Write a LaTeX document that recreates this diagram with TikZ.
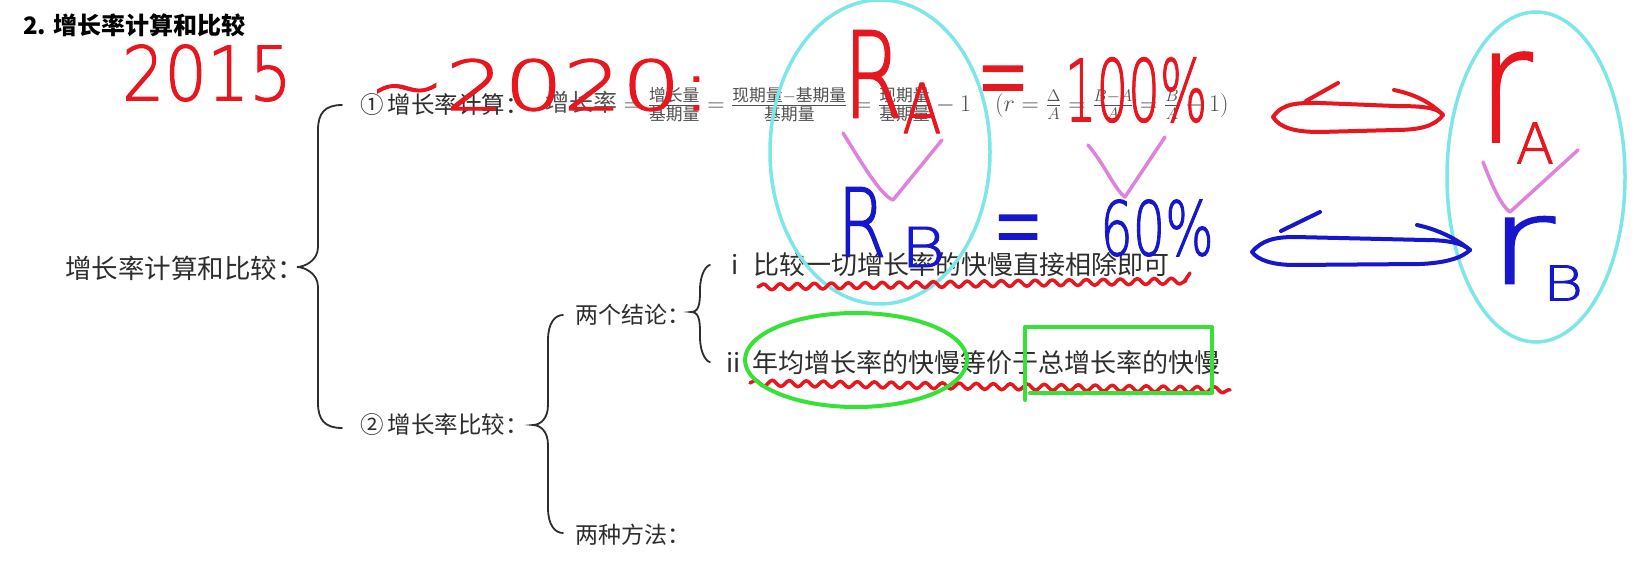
\RequirePackage{fix-cm}
\documentclass[tikz,border=0pt]{standalone}
\usepackage{amsmath}
\usepackage{fontspec}
\setmainfont{Noto Sans CJK SC}
\newfontfamily\hand[FakeBold=1.6]{DejaVuSans-ExtraLight.ttf}
\usetikzlibrary{arrows.meta,decorations.pathmorphing}
\definecolor{hred}{RGB}{232,22,30}
\definecolor{hblue}{RGB}{22,22,205}
\definecolor{hcyan}{RGB}{125,230,232}
\definecolor{hpink}{RGB}{222,130,222}
\definecolor{hgreen}{RGB}{55,225,55}
\definecolor{txt}{RGB}{45,45,45}
\definecolor{fgray}{RGB}{80,80,80}
\newcommand\hsz[1]{\hand\fontsize{#1}{#1}\selectfont}
\newcommand\csz[1]{\fontsize{#1}{#1}\selectfont}
\newcommand\hbrace[6]{%
  \draw[bracestyle] (#1,#4) .. controls ({#2+7},#4) and (#2,{#4+8}) .. (#2,{#4+25})
    -- (#2,{#5-20}) .. controls (#2,{#5-6}) and ({#3+7},#5) .. (#3,#5)
    .. controls ({#3+7},#5) and (#2,{#5+6}) .. (#2,{#5+20})
    -- (#2,{#6-25}) .. controls (#2,{#6-8}) and ({#2+7},#6) .. (#1,#6);}
\tikzset{
  lbl/.style={anchor=west, inner sep=0pt, text=txt},
  hw/.style={inner sep=0pt},
  bracestyle/.style={draw=txt, line width=1.8pt, line cap=round},
  redhand/.style={draw=hred, line width=4pt, line cap=round, line join=round},
  bluehand/.style={draw=hblue, line width=4pt, line cap=round, line join=round},
  cyanhand/.style={draw=hcyan, line width=3.5pt},
  pinkhand/.style={draw=hpink, line width=3.5pt, line cap=round, line join=round},
  greenhand/.style={draw=hgreen, line width=4pt, line cap=round, line join=round},
  wavy/.style={decorate, decoration={snake, amplitude=3pt, segment length=17pt}},
}
\begin{document}
\begin{tikzpicture}[x=1pt,y=-1pt]
\useasboundingbox (0,0) rectangle (1642,577);
\fill[white] (0,0) rectangle (1642,577);

% printed text
\node[lbl, text=black, font=\bfseries\csz{24}] (title) at (23,25) {2. 增长率计算和比较};
\node[lbl, font=\csz{26.5}] (root) at (65,268) {增长率计算和比较：};
\node[lbl, font=\csz{23.5}] (calc) at (360,105) {①\hspace{4pt}增长率计算：};
\node[lbl, text=fgray, font=\csz{24}] (formula) at (545,105)
  {增长率${}=\frac{\text{增长量}}{\text{基期量}}=\frac{\text{现期量}-\text{基期量}}{\text{基期量}}=\frac{\text{现期量}}{\text{基期量}}-1\quad(r=\frac{\Delta}{A}=\frac{B-A}{A}=\frac{B}{A}-1)$};
\node[lbl, font=\csz{23.5}] (cmp) at (360,425) {②\hspace{4pt}增长率比较：};
\node[lbl, font=\csz{23}] (concl) at (575,315) {两个结论：};
\node[lbl, font=\csz{23}] (methods) at (575,535) {两种方法：};
\node[lbl, font=\csz{26}] (c1) at (731,265) {i\hspace{15pt}比较一切增长率的快慢直接相除即可};
\node[lbl, font=\csz{26}] (c2) at (726,363) {ii\hspace{12pt}年均增长率的快慢等价于总增长率的快慢};

% braces
\hbrace{342}{318}{297}{105}{267}{428}
\hbrace{563}{548}{533}{315}{425}{533}
\hbrace{710}{700}{691}{265}{312}{362}

% handwriting: cyan ellipses
\draw[cyanhand] (880,152) ellipse [x radius=110, y radius=152];
\draw[cyanhand] (1536,177) ellipse [x radius=89, y radius=165];

% red handwriting
\node[hw, text=hred, font=\hsz{75}] (h2015) at (207,73) {\scalebox{0.89}[1]{2015}};
\node[hw, text=hred, font=\hsz{69}] (h2020) at (540,85) {\scalebox{1.34}[1]{\textasciitilde 2020:}};
\node[hw, text=hred, font=\hsz{119}] (hRA) at (873,74) {\scalebox{0.72}[1]{R}};
\node[hw, text=hred, font=\hsz{69}] (hRAs) at (922,108) {\scalebox{0.83}[1]{A}};
\node[hw, text=hred, font=\hsz{63}] (heqA) at (1003,91) {\scalebox{1}[1.9]{=}};
\node[hw, text=hred, font=\hsz{86}] (h100) at (1136,90) {\scalebox{0.58}[1]{100\%}};
\node[hw, text=hred, font=\hsz{159}] (hrA) at (1505,97) {\scalebox{0.83}[1]{r}};
\node[hw, text=hred, font=\hsz{56}] (hrAs) at (1535,143) {A};
% red double arrow
\coordinate (raL) at (1273,117);
\coordinate (raR) at (1443,115);
\draw[redhand] (raL) .. controls (1283,102) and (1300,103) .. (1320,103) -- (1395,106)
  .. controls (1425,106) and (1438,108) .. (raR)
  .. controls (1435,126) and (1420,130) .. (1395,130) -- (1320,132)
  .. controls (1295,132) and (1280,128) .. (raL);
\draw[redhand] (1338,83) -- (1306,101);
\draw[redhand] (1394,90) .. controls (1418,95) and (1432,104) .. (raR);

% blue handwriting
\node[hw, text=hblue, font=\hsz{95}] (hRB) at (862,222) {\scalebox{0.74}[1]{R}};
\node[hw, text=hblue, font=\hsz{55}] (hRBs) at (923,247) {\scalebox{1.24}[1]{B}};
\node[hw, text=hblue, font=\hsz{60}] (heqB) at (1018,240) {\scalebox{1}[2]{=}};
\node[hw, text=hblue, font=\hsz{75}] (h60) at (1157,228) {\scalebox{0.68}[1]{60\%}};
\node[hw, text=hblue, font=\hsz{119}] (hrB) at (1521,250) {\scalebox{1.37}[1]{r}};
\node[hw, text=hblue, font=\hsz{48}] (hrBs) at (1563,283) {\scalebox{1.3}[1]{B}};
% blue double arrow
\coordinate (baL) at (1252,252);
\coordinate (baR) at (1470,250);
\draw[bluehand] (baL) .. controls (1262,240) and (1275,237) .. (1295,237) -- (1425,240)
  .. controls (1450,240) and (1464,244) .. (baR)
  .. controls (1462,258) and (1445,263) .. (1420,264) -- (1295,265)
  .. controls (1272,265) and (1258,260) .. (baL);
\draw[bluehand] (1320,212) -- (1281,231);
\draw[bluehand] (1417,225) .. controls (1440,230) and (1458,240) .. (baR);

% pink ticks
\draw[pinkhand] (843,133) .. controls (860,160) and (880,195) .. (893,200) -- (942,140);
\draw[pinkhand] (1088,145) .. controls (1105,165) and (1115,190) .. (1125,197) -- (1165,137);
\draw[pinkhand] (1483,162) .. controls (1490,180) and (1500,205) .. (1510,212) -- (1578,150);

% red wavy underlines
\draw[redhand, line width=3.5pt, wavy] (758,287) -- (1186,281);
\draw[redhand, line width=3.5pt] (1184,282) -- (1190,273);
\draw[redhand, line width=3.5pt, wavy] (750,383) -- (1230,390);

% green marks
\draw[greenhand] (856,360) ellipse [x radius=111, y radius=47];
\draw[greenhand] (1025,400) -- (1025,327) -- (1212,327) -- (1212,393) -- (1030,393);
\end{tikzpicture}
\end{document}
